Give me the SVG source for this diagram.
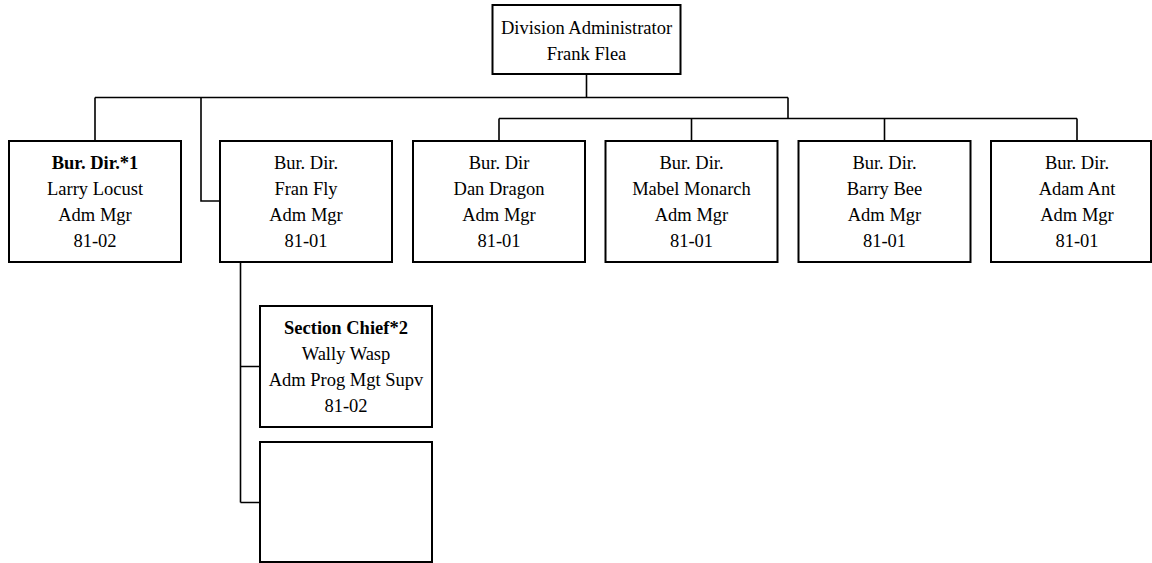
<svg xmlns="http://www.w3.org/2000/svg" width="1152" height="563" viewBox="0 0 1152 563">
<style>
.box{fill:#fff;stroke:#000;stroke-width:2}
.ln{fill:none;stroke:#000;stroke-width:1.6}
text{font-family:"Liberation Serif","Times New Roman",serif;font-size:18.5px;fill:#000;text-anchor:middle}
.b{font-weight:bold}
</style>
<rect width="1152" height="563" fill="#fff"/>
<g id="connectors">
<path class="ln" d="M586.5,74 V97.5 M95,97.5 H788 M95,97.5 V141 M201,97.5 V201 H220 M788,97.5 V118.5 M499,118.5 H1077 M499,118.5 V141 M691.5,118.5 V141 M884.5,118.5 V141 M1077,118.5 V141 M240.5,262 V502.5 M240.5,366.5 H260 M240.5,502.5 H260"/>
</g>
<g id="n-admin">
<rect class="box" x="492.5" y="5" width="188" height="69"/>
<text x="586.5" y="34">Division Administrator</text>
<text x="586.5" y="60">Frank Flea</text>
</g>
<g id="n-larry">
<rect class="box" x="9" y="141" width="172" height="121"/>
<text x="95" y="169" class="b">Bur. Dir.*1</text>
<text x="95" y="195">Larry Locust</text>
<text x="95" y="221">Adm Mgr</text>
<text x="95" y="247">81-02</text>
</g>
<g id="n-fran">
<rect class="box" x="220" y="141" width="172" height="121"/>
<text x="306" y="169">Bur. Dir.</text>
<text x="306" y="195">Fran Fly</text>
<text x="306" y="221">Adm Mgr</text>
<text x="306" y="247">81-01</text>
</g>
<g id="n-dan">
<rect class="box" x="413" y="141" width="172" height="121"/>
<text x="499" y="169">Bur. Dir</text>
<text x="499" y="195">Dan Dragon</text>
<text x="499" y="221">Adm Mgr</text>
<text x="499" y="247">81-01</text>
</g>
<g id="n-mabel">
<rect class="box" x="605.5" y="141" width="172" height="121"/>
<text x="691.5" y="169">Bur. Dir.</text>
<text x="691.5" y="195">Mabel Monarch</text>
<text x="691.5" y="221">Adm Mgr</text>
<text x="691.5" y="247">81-01</text>
</g>
<g id="n-barry">
<rect class="box" x="798.5" y="141" width="172" height="121"/>
<text x="884.5" y="169">Bur. Dir.</text>
<text x="884.5" y="195">Barry Bee</text>
<text x="884.5" y="221">Adm Mgr</text>
<text x="884.5" y="247">81-01</text>
</g>
<g id="n-adam">
<rect class="box" x="991" y="141" width="160" height="121"/>
<text x="1077" y="169">Bur. Dir.</text>
<text x="1077" y="195">Adam Ant</text>
<text x="1077" y="221">Adm Mgr</text>
<text x="1077" y="247">81-01</text>
</g>
<g id="n-wally">
<rect class="box" x="260" y="306" width="172" height="121"/>
<text x="346" y="334" class="b">Section Chief*2</text>
<text x="346" y="360">Wally Wasp</text>
<text x="346" y="386">Adm Prog Mgt Supv</text>
<text x="346" y="412">81-02</text>
</g>
<g id="n-empty">
<rect class="box" x="260" y="442" width="172" height="120"/>
</g>
</svg>
